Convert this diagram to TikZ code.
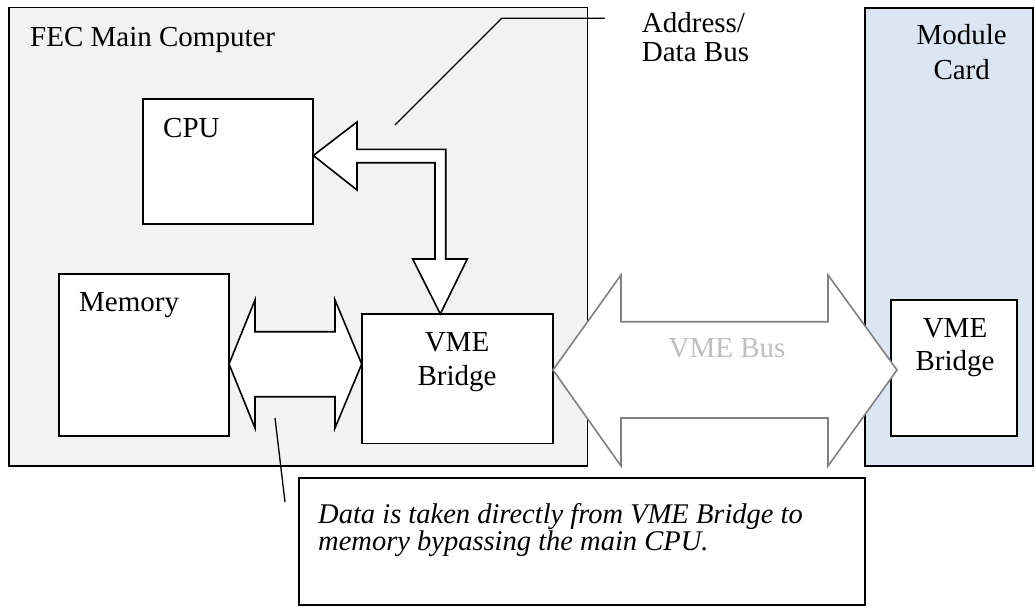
\documentclass[tikz,border=0pt]{standalone}
\usepackage{fontspec}
\setmainfont{Liberation Serif}
\definecolor{fecgray}{RGB}{242,242,242}
\definecolor{cardblue}{RGB}{220,230,242}
\definecolor{busline}{RGB}{128,128,128}
\definecolor{bustext}{RGB}{191,191,191}
\begin{document}
\begin{tikzpicture}[x=1pt,y=-1pt,
  box/.style={draw=black, line width=1.8pt, fill=white, anchor=north west, inner sep=0pt, outer sep=0pt},
  txt/.style={font=\fontsize{29}{#1}\selectfont, inner sep=0pt},
  txt/.default=33,
  note/.style={font=\fontsize{28.5}{27}\selectfont\itshape, inner sep=0pt, align=left},
  blockarrow/.style={draw=black, line width=1.6pt, fill=white, line join=miter},
  busarrow/.style={draw=busline, line width=1.6pt, fill=white, line join=miter},
  pointer/.style={draw=black, line width=1.3pt}]
\useasboundingbox (0,0) rectangle (1035,607);
% containers
\node[box, fill=fecgray, minimum width=578.5pt, minimum height=458.5pt] (fec) at (9,7.5) {};
\node[box, fill=cardblue, minimum width=168pt, minimum height=458pt] (card) at (865,8) {};
% inner boxes
\node[box, minimum width=170.6pt, minimum height=125pt] (cpu) at (142.7,99.3) {};
\node[box, minimum width=170pt, minimum height=162pt] (mem) at (59,274) {};
\node[box, minimum width=191.3pt, minimum height=129.5pt] (vme) at (361.7,314) {};
\node[box, minimum width=126pt, minimum height=136pt] (mvme) at (891,300) {};
% address/data bus bent arrow
\draw[blockarrow] (cpu.east |- 0,155.5) -- (357,122) -- (357,149.3) -- (445.7,149.3) -- (445.7,259)
  -- (467.3,259) -- (vme.north -| 440.3,0) -- (412.7,259) -- (435,259) -- (435,162.7)
  -- (357,162.7) -- (357,190) -- cycle;
% memory <-> VME bridge arrow
\draw[blockarrow] (mem.east |- 0,364) -- (255,300) -- (255,331.7) -- (335,331.7) -- (335,300)
  -- (vme.west |- 0,364) -- (335,428) -- (335,396.7) -- (255,396.7) -- (255,428) -- cycle;
% VME bus arrow
\draw[busarrow] (vme.east |- 0,370) -- (621,275) -- (621,321.7) -- (828,321.7) -- (828,275)
  -- (897,370) -- (828,466) -- (828,418) -- (621,418) -- (621,466) -- cycle;
\node[txt, text=bustext, anchor=base] (bus) at (727,357) {VME Bus};
% note box
\node[box, minimum width=566pt, minimum height=127pt] (notebox) at (299,478) {};
\node[note, anchor=base west] (notetext) at (318,550) {Data is taken directly from VME Bridge to\\memory bypassing the main CPU.};
% callout pointers
\coordinate (addrtip) at (395,125);
\coordinate (addrbend) at (501.7,18.3);
\coordinate (addrend) at (605,18.3);
\draw[pointer] (addrtip) -- (addrbend) -- (addrend);
\coordinate (memtip) at (275,418);
\coordinate (noteend) at (285,502);
\draw[pointer] (memtip) -- (noteend);
% labels
\node[txt, anchor=base west] (feclabel) at (30,47) {FEC Main Computer};
\node[txt, anchor=base west] (cpulabel) at (163,137) {CPU};
\node[txt, anchor=base west] (memlabel) at (79,311.7) {Memory};
\node[txt=33.3, anchor=base, align=center] (vmelabel) at (457,385) {VME\\Bridge};
\node[txt=32.3, anchor=base, align=center] (mvmelabel) at (955,370) {VME\\Bridge};
\node[txt=35, anchor=base, align=center] (cardlabel) at (961.7,80) {Module\\Card};
\node[txt=29, anchor=base west, align=left] (addrlabel) at (641.7,62) {Address/\\Data Bus};
\end{tikzpicture}
\end{document}
